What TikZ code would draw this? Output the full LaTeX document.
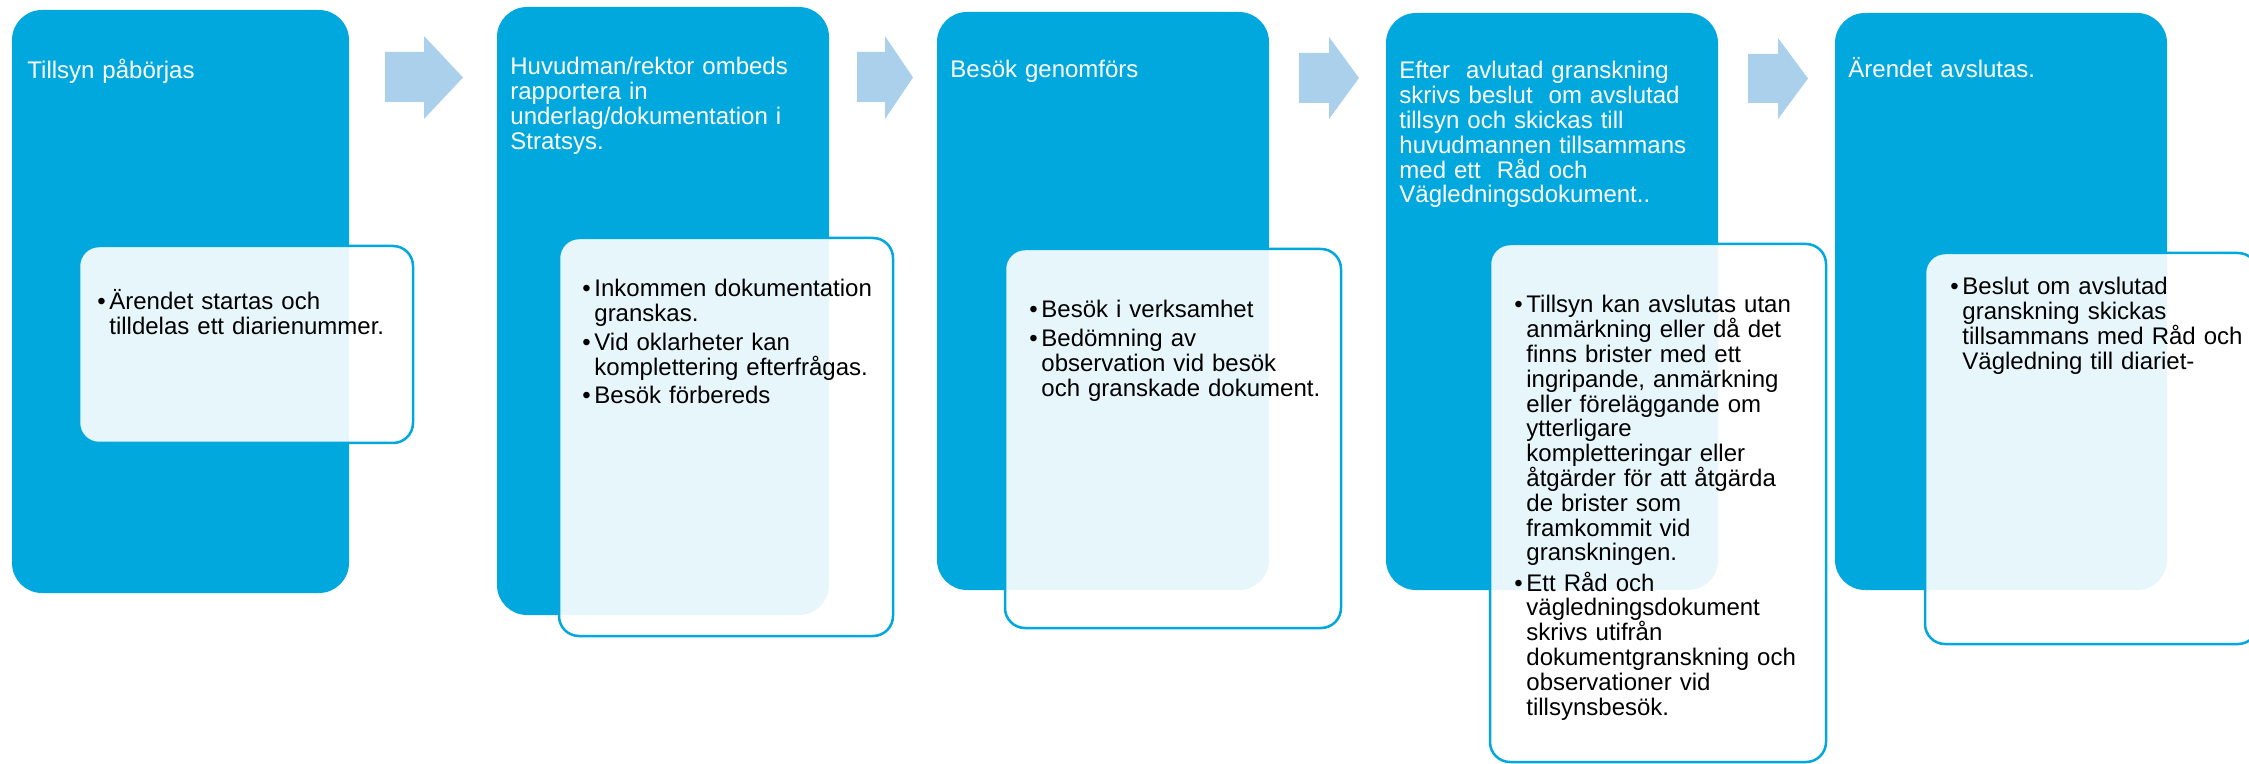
\documentclass[tikz,border=0pt]{standalone}
\usepackage{fontspec}
\setmainfont{Liberation Sans}
\definecolor{mainblue}{HTML}{00A8DE}
\definecolor{arrowblue}{HTML}{ABD0EC}
% rounded box as a named node: name, style, x1, y1, x2, y2 (pixels)
\newcommand\rbox[6]{\node[#2, minimum width={(#5-#3)*0.5pt}, minimum height={(#6-#4)*0.5pt}] (#1) at ({(#3+#5)/2},{(#4+#6)/2}) {};}
% block arrow: name, x0, xhead, xtip, body top, body bottom, head top, head bottom
\newcommand\barrow[8]{\fill[arrowblue] (#2,#5) -- (#3,#5) -- (#3,#7) -- (#4,{(#7+#8)/2}) -- (#3,#8) -- (#3,#6) -- (#2,#6) -- cycle;
  \coordinate (#1) at (#4,{(#7+#8)/2});}
\begin{document}
\begin{tikzpicture}[x=0.5pt,y=-0.5pt,
  bluebox/.style={rectangle, inner sep=0pt, fill=mainblue, rounded corners=15pt},
  lightbox/.style={rectangle, inner sep=0pt, draw=mainblue, line width=1.25pt, fill=white, fill opacity=0.9, draw opacity=1, rounded corners=10pt},
  titletext/.style={anchor=base west, inner sep=0pt, text=white, font=\fontsize{12pt}{12.4pt}\selectfont, text width=220pt, align=left},
  itemtext/.style={anchor=base west, inner sep=0pt, text=black, font=\fontsize{12pt}{12.4pt}\selectfont, text width=220pt, align=left},
  bulletdot/.style={anchor=base west, inner sep=0pt, text=black, font=\fontsize{12pt}{12.4pt}\selectfont},
]
\useasboundingbox (0,0) rectangle (2249,764);
\fill[white] (0,0) rectangle (2249,764);

% ---- arrows
\barrow{a1}{385}{424}{463}{52}{102}{36}{119}
\barrow{a2}{857}{885}{913}{52}{102}{36}{119}
\barrow{a3}{1299}{1329}{1359}{53}{103}{37}{119}
\barrow{a4}{1748}{1778}{1808}{54}{103}{38}{119}

% ---- step 1
\rbox{b1}{bluebox}{12}{10}{349}{593}
\rbox{l1}{lightbox}{79}{246}{413}{443}
\node[titletext] (t1) at (27,79) {Tillsyn påbörjas};
\node[bulletdot] (d11) at (97,310) {•};
\node[itemtext] (i11) at (109,310) {Ärendet startas och\\tilldelas ett diarienummer.};

% ---- step 2
\rbox{b2}{bluebox}{497}{7}{829}{615}
\rbox{l2}{lightbox}{559}{238}{893}{636}
\node[titletext] (t2) at (510,75) {Huvudman/rektor ombeds\\rapportera in\\underlag/dokumentation i\\Stratsys.};
\node[bulletdot] (d21) at (582,297) {•};
\node[itemtext] (i21) at (594,297) {Inkommen dokumentation\\granskas.};
\node[bulletdot] (d22) at (582,351) {•};
\node[itemtext] (i22) at (594,351) {Vid oklarheter kan\\komplettering efterfrågas.};
\node[bulletdot] (d23) at (582,404) {•};
\node[itemtext] (i23) at (594,404) {Besök förbereds};

% ---- step 3
\rbox{b3}{bluebox}{937}{12}{1269}{590}
\rbox{l3}{lightbox}{1005}{249}{1341}{628}
\node[titletext] (t3) at (950,78) {Besök genomförs};
\node[bulletdot] (d31) at (1029,318) {•};
\node[itemtext] (i31) at (1041,318) {Besök i verksamhet};
\node[bulletdot] (d32) at (1029,347) {•};
\node[itemtext] (i32) at (1041,347) {Bedömning av\\observation vid besök\\och granskade dokument.};

% ---- step 4
\rbox{b4}{bluebox}{1386}{13}{1718}{590}
\rbox{l4}{lightbox}{1490}{244}{1826}{762}
\node[titletext] (t4) at (1399,79) {Efter~ avlutad granskning\\skrivs beslut~ om avslutad\\tillsyn och skickas till\\huvudmannen tillsammans\\med ett~ Råd och\\Vägledningsdokument..};
\node[bulletdot] (d41) at (1514,313) {•};
\node[itemtext] (i41) at (1526,313) {Tillsyn kan avslutas utan\\anmärkning eller då det\\finns brister med ett\\ingripande, anmärkning\\eller föreläggande om\\ytterligare\\kompletteringar eller\\åtgärder för att åtgärda\\de brister som\\framkommit vid\\granskningen.};
\node[bulletdot] (d42) at (1514,591) {•};
\node[itemtext] (i42) at (1526,591) {Ett Råd och\\vägledningsdokument\\skrivs utifrån\\dokumentgranskning och\\observationer vid\\tillsynsbesök.};

% ---- step 5
\rbox{b5}{bluebox}{1835}{13}{2167}{590}
\rbox{l5}{lightbox}{1925}{253}{2258}{644}
\node[titletext] (t5) at (1848,78) {Ärendet avslutas.};
\node[bulletdot] (d51) at (1950,295) {•};
\node[itemtext] (i51) at (1962,295) {Beslut om avslutad\\granskning skickas\\tillsammans med Råd och\\Vägledning till diariet-};
\end{tikzpicture}
\end{document}
